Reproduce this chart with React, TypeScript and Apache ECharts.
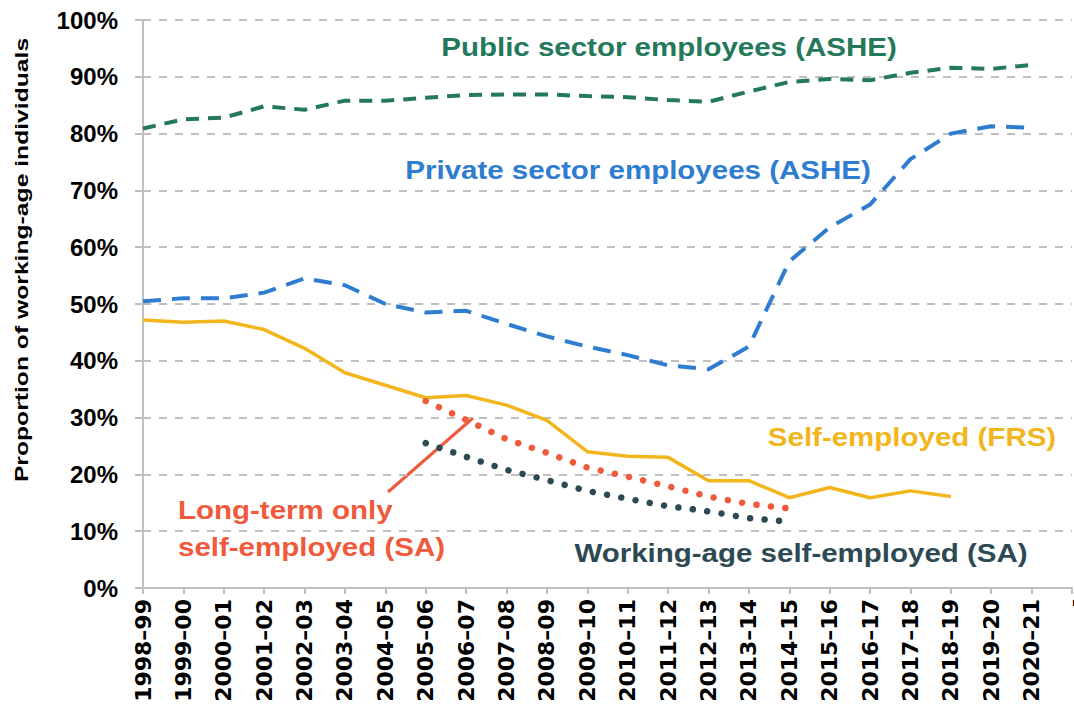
import React, { useEffect, useRef } from "react";
import * as echarts from "echarts";

const categories = [
  "1998–99", "1999–00", "2000–01", "2001–02", "2002–03", "2003–04", "2004–05",
  "2005–06", "2006–07", "2007–08", "2008–09", "2009–10", "2010–11", "2011–12",
  "2012–13", "2013–14", "2014–15", "2015–16", "2016–17", "2017–18", "2018–19",
  "2019–20", "2020–21", "–",
];

const publicSector = [
  80.9, 82.5, 82.8, 84.8, 84.2, 85.8, 85.8, 86.3, 86.8, 86.9, 86.9, 86.6, 86.4,
  85.9, 85.6, 87.4, 89.1, 89.6, 89.4, 90.7, 91.6, 91.4, 92.1, null,
];

const privateSector = [
  50.5, 51, 51, 52, 54.5, 53.3, 50, 48.5, 48.8, 46.5, 44.3, 42.5, 41, 39.2,
  38.5, 42.5, 57.5, 63.5, 67.5, 75.5, 80, 81.3, 81, null,
];

const selfEmployedFRS = [
  47.2, 46.8, 47.0, 45.5, 42.2, 37.9, 35.7, 33.5, 33.9, 32.2, 29.5, 24.0, 23.2,
  23.0, 18.9, 18.9, 15.9, 17.7, 15.9, 17.1, 16.1, null, null, null,
];

const longTermSA = [
  null, null, null, null, null, null, null, 32.9, 29.6, 26.2, 23.8, 21.2, 19.6,
  17.9, 16.1, 14.8, 14.0, null, null, null, null, null, null, null,
];

const workingAgeSA = [
  null, null, null, null, null, null, null, 25.5, 23.1, 20.8, 19.0, 17.1, 15.7,
  14.4, 13.5, 12.3, 11.7, null, null, null, null, null, null, null,
];

const yTicks = [0, 10, 20, 30, 40, 50, 60, 70, 80, 90, 100];

const GREEN = "#23795a";
const BLUE = "#2e7dd1";
const YELLOW = "#f2b51c";
const ORANGE = "#ef5a3c";
const DARK = "#2d4a54";
const GRAY = "#bfbfbf";
const FONT = "Liberation Sans, Arial, sans-serif";

export default function App() {
  const ref = useRef<HTMLDivElement>(null);

  useEffect(() => {
    if (!ref.current) return;
    const chart = echarts.init(ref.current, null, { renderer: "svg", width: 1074, height: 708 });
    const ann = (text: string, x: number, y: number, color: string, align = "center") => ({
      type: "text",
      x,
      y,
      scaleX: 1.18,
      style: {
        text,
        fill: color,
        font: `bold 25px ${FONT}`,
        align,
        verticalAlign: "middle",
      },
    });
    const xData = categories.map((c, i) =>
      i === categories.length - 1
        ? { value: c, textStyle: { fontSize: 16, lineHeight: 3 } }
        : c
    );
    chart.setOption({
      animation: false,
      grid: {
        left: 143,
        right: 2,
        top: 20,
        bottom: 120,
        containLabel: false,
        outerBoundsMode: "none",
      },
      xAxis: {
        type: "category",
        data: xData,
        boundaryGap: false,
        axisLine: { lineStyle: { color: GRAY, width: 2 } },
        axisTick: { show: true, length: 6, lineStyle: { color: GRAY, width: 2 } },
        axisLabel: {
          rotate: 90,
          interval: 0,
          margin: 11,
          color: "#000",
          fontFamily: "DejaVu Sans, sans-serif",
          fontWeight: "bold",
          fontSize: 22,
        },
      },
      yAxis: {
        type: "value",
        min: yTicks[0],
        max: yTicks[yTicks.length - 1],
        interval: 10,
        axisLine: { show: true, lineStyle: { color: GRAY, width: 2 } },
        axisTick: { show: true, length: 8, lineStyle: { color: GRAY, width: 2 } },
        axisLabel: {
          formatter: "{value}%",
          color: "#000",
          fontFamily: FONT,
          fontWeight: "bold",
          fontSize: 24,
          margin: 25,
        },
        splitLine: { show: true, lineStyle: { color: GRAY, width: 2, type: [8, 8] } },
      },
      series: [
        {
          name: "Public sector employees (ASHE)",
          type: "line",
          data: publicSector,
          showSymbol: false,
          lineStyle: { color: GREEN, width: 4, type: [13, 9] },
        },
        {
          name: "Private sector employees (ASHE)",
          type: "line",
          data: privateSector,
          showSymbol: false,
          lineStyle: { color: BLUE, width: 4, type: [18, 11] },
        },
        {
          name: "Self-employed (FRS)",
          type: "line",
          data: selfEmployedFRS,
          showSymbol: false,
          lineStyle: { color: YELLOW, width: 3.5 },
        },
        {
          name: "Long-term only self-employed (SA)",
          type: "line",
          data: longTermSA,
          showSymbol: false,
          lineStyle: { color: ORANGE, width: 6.5, type: [0.01, 14.5], cap: "round" },
        },
        {
          name: "Working-age self-employed (SA)",
          type: "line",
          data: workingAgeSA,
          showSymbol: false,
          lineStyle: { color: DARK, width: 6.5, type: [0.01, 14.5], cap: "round" },
        },
      ],
      graphic: [
        {
          type: "text",
          x: 22,
          y: 260,
          rotation: Math.PI / 2,
          scaleX: 1.3,
          style: {
            text: "Proportion of working-age individuals",
            fill: "#000",
            font: `bold 19px ${FONT}`,
            align: "center",
            verticalAlign: "middle",
          },
        },
        ann("Public sector employees (ASHE)", 669, 47, GREEN),
        ann("Private sector employees (ASHE)", 638, 170, BLUE),
        ann("Self-employed (FRS)", 912, 437, YELLOW),
        ann("Long-term only", 178, 510, ORANGE, "left"),
        ann("self-employed (SA)", 178, 547, ORANGE, "left"),
        ann("Working-age self-employed (SA)", 801, 553, DARK),
        {
          type: "line",
          shape: { x1: 388, y1: 492, x2: 473, y2: 418 },
          style: { stroke: ORANGE, lineWidth: 3 },
        },
      ],
    });
    return () => chart.dispose();
  }, []);

  return (
    <div
      ref={ref}
      style={{ position: "fixed", left: 0, top: 0, width: 1074, height: 708, background: "#fff" }}
    />
  );
}
